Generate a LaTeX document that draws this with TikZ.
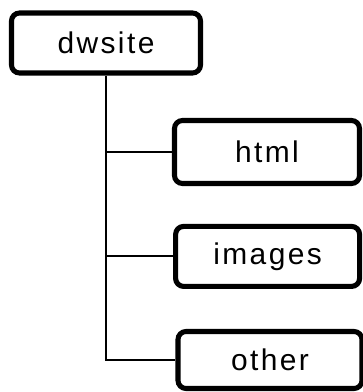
\documentclass[tikz,border=0pt]{standalone}
\usepackage{fontspec}
\setmainfont[LetterSpace=8]{Liberation Sans}
\usepackage{tikz}
\usetikzlibrary{
    calc,
    positioning
}

\begin{document}
\begin{tikzpicture}[
                        dirbox/.style={draw, line width=3.6pt, rounded corners=0.2cm,
                            inner sep=0pt, font=\fontsize{21.3}{25}\selectfont},
                        branch/.style={line width=1.3pt}
                    ]
                        \useasboundingbox (0, 0) rectangle (9.075, -9.8);

                        \node[dirbox, minimum width=4.725cm, minimum height=1.5cm] (dwsite) at (2.65, -1.075) {dwsite};
                        \node[dirbox, minimum width=4.625cm, minimum height=1.575cm] (html) at (6.675, -3.8) {html};
                        \node[dirbox, minimum width=4.6cm, minimum height=1.5cm] (images) at (6.69, -6.41) {images};
                        \node[dirbox, minimum width=4.6cm, minimum height=1.425cm] (other) at (6.75, -9.0) {other};

                        \draw[branch]
                        (dwsite.south) -- (dwsite.south |- other.west) -- (other.west)
                        (dwsite.south |- html.west) -- (html.west)
                        (dwsite.south |- images.west) -- (images.west);
                    \end{tikzpicture}
\end{document}
